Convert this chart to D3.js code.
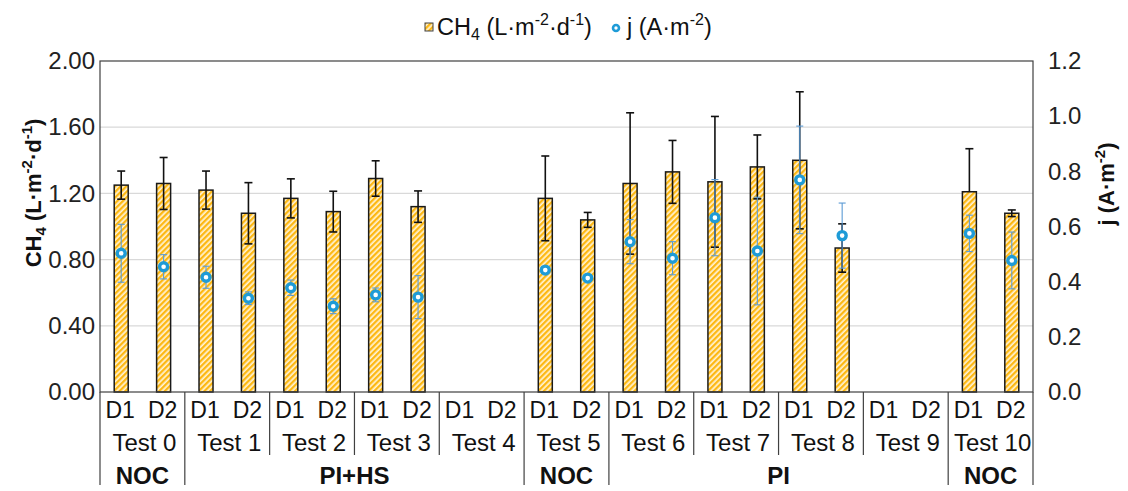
<!DOCTYPE html>
<html><head><meta charset="utf-8">
<script src="https://cdn.jsdelivr.net/npm/d3@7"></script>
<style>
html,body{margin:0;padding:0;background:#fff;}
svg{display:block;font-family:"Liberation Sans",Arial,sans-serif;}
</style></head>
<body><svg id="c" width="1128" height="491"></svg>
<script>
// ---- data ----
const days = ["D1","D2"];
const tests = ["Test 0","Test 1","Test 2","Test 3","Test 4","Test 5","Test 6","Test 7","Test 8","Test 9","Test 10"];
const groups = [
  {name:"NOC", from:0, to:0},
  {name:"PI+HS", from:1, to:4},
  {name:"NOC", from:5, to:5},
  {name:"PI", from:6, to:9},
  {name:"NOC", from:10, to:10}
];
const ch4 = [1.25,1.26, 1.22,1.08, 1.17,1.09, 1.29,1.12, null,null, 1.17,1.04, 1.26,1.33, 1.27,1.36, 1.40,0.87, null,null, 1.21,1.08];
const ch4ErrPlus  = [0.085,0.157, 0.115,0.185, 0.118,0.123, 0.107,0.095, null,null, 0.256,0.045, 0.427,0.19, 0.395,0.193, 0.414,0.146, null,null, 0.26,0.02];
const ch4ErrMinus = [0.085,0.157, 0.115,0.185, 0.118,0.123, 0.107,0.095, null,null, 0.256,0.045, 0.427,0.19, 0.395,0.193, 0.414,0.146, null,null, 0,0.02];
const jVals = [0.503,0.454, 0.416,0.340, 0.378,0.311, 0.352,0.344, null,null, 0.442,0.413, 0.545,0.485, 0.632,0.511, 0.769,0.567, null,null, 0.575,0.477];
const jErr  = [0.105,0.044, 0.040,0.023, 0.028,0.027, 0.025,0.078, null,null, 0.010,0.010, 0.080,0.060, 0.138,0.195, 0.195,0.118, null,null, 0.066,0.103];
const leftTicks = [0,0.4,0.8,1.2,1.6,2.0];
const rightTicks = [0,0.2,0.4,0.6,0.8,1.0,1.2];

// ---- layout ----
const L=100, R=1033, T=61, B=392;
const svg = d3.select("#c");
const FONT = '"Liberation Sans",Arial,sans-serif';
const slots = d3.range(tests.length*days.length);
const x = d3.scaleBand().domain(slots).range([L,R]).padding(0);
const xt = d3.scaleBand().domain(d3.range(tests.length)).range([L,R]).padding(0);
const y = d3.scaleLinear().domain([0,2]).range([B,T]);
const yj = d3.scaleLinear().domain([0,1.2]).range([B,T]);

// hatch pattern
const defs = svg.append("defs");
const pat = defs.append("pattern").attr("id","hatch").attr("patternUnits","userSpaceOnUse")
  .attr("width",4).attr("height",4).attr("patternTransform","rotate(45)");
pat.append("rect").attr("width",4).attr("height",4).attr("fill","#fff3d6");
pat.append("rect").attr("width",2.3).attr("height",4).attr("fill","#fdb813");

// gridlines
svg.append("g").selectAll("line").data(leftTicks.filter(d=>d>0&&d<2)).join("line")
  .attr("x1",L).attr("x2",R).attr("y1",d=>y(d)).attr("y2",d=>y(d))
  .attr("stroke","#d9d9d9").attr("stroke-width",1.3);

// bars
const bw = x.bandwidth()*0.33;
svg.append("g").selectAll("rect").data(slots.filter(i=>ch4[i]!=null)).join("rect")
  .attr("x",i=>x(i)+x.bandwidth()/2-bw/2).attr("width",bw)
  .attr("y",i=>y(ch4[i])).attr("height",i=>y(0)-y(ch4[i]))
  .attr("fill","url(#hatch)").attr("stroke","#1a1a1a").attr("stroke-width",1.5);

// black error bars
const eg = svg.append("g").attr("stroke","#111").attr("stroke-width",1.6);
slots.filter(i=>ch4[i]!=null).forEach(i=>{
  const cx = x(i)+x.bandwidth()/2;
  const y1 = y(ch4[i]+ch4ErrPlus[i]), y2 = y(ch4[i]-ch4ErrMinus[i]);
  eg.append("line").attr("x1",cx).attr("x2",cx).attr("y1",y1).attr("y2",y2);
  eg.append("line").attr("x1",cx-4).attr("x2",cx+4).attr("y1",y1).attr("y2",y1);
  if (ch4ErrMinus[i]>0) eg.append("line").attr("x1",cx-4).attr("x2",cx+4).attr("y1",y2).attr("y2",y2);
});

// blue error bars
const bg = svg.append("g").attr("stroke","#5b9bd5").attr("stroke-width",1.1);
slots.filter(i=>jVals[i]!=null).forEach(i=>{
  const cx = x(i)+x.bandwidth()/2;
  const y1 = yj(jVals[i]+jErr[i]), y2 = yj(jVals[i]-jErr[i]);
  bg.append("line").attr("x1",cx).attr("x2",cx).attr("y1",y1).attr("y2",y2);
  bg.append("line").attr("x1",cx-3.5).attr("x2",cx+3.5).attr("y1",y1).attr("y2",y1);
  bg.append("line").attr("x1",cx-3.5).attr("x2",cx+3.5).attr("y1",y2).attr("y2",y2);
});

// markers
svg.append("g").selectAll("circle").data(slots.filter(i=>jVals[i]!=null)).join("circle")
  .attr("cx",i=>x(i)+x.bandwidth()/2).attr("cy",i=>yj(jVals[i])).attr("r",4)
  .attr("fill","#fff").attr("stroke","#1e9bd7").attr("stroke-width",3.4);

// frame
svg.append("rect").attr("x",L).attr("y",T).attr("width",R-L).attr("height",B-T)
  .attr("fill","none").attr("stroke","#404040").attr("stroke-width",1.2);

// axes
const ax = svg.append("g").attr("transform",`translate(${L},0)`)
  .call(d3.axisLeft(y).tickValues(leftTicks).tickFormat(d3.format(".2f")).tickSize(0).tickPadding(5));
const ax2 = svg.append("g").attr("transform",`translate(${R},0)`)
  .call(d3.axisRight(yj).tickValues(rightTicks).tickFormat(d3.format(".1f")).tickSize(0).tickPadding(15));
[ax,ax2].forEach(a=>{
  a.select(".domain").remove();
  a.selectAll("text").attr("font-size",24).attr("font-family",FONT).attr("fill","#222");
});

// category axis table
const cg = svg.append("g").attr("font-family",FONT).attr("fill","#111").attr("text-anchor","middle");
cg.selectAll("text.d").data(slots).join("text").attr("class","d")
  .attr("x",i=>x(i)+x.bandwidth()/2-1).attr("y",418).attr("font-size",23)
  .text(i=>days[i%2]);
cg.selectAll("text.t").data(tests).join("text").attr("class","t")
  .attr("x",(d,i)=>xt(i)+xt.bandwidth()/2+2).attr("y",451).attr("font-size",24)
  .text(d=>d);
cg.selectAll("text.g").data(groups).join("text").attr("class","g")
  .attr("x",g=>(xt(g.from)+xt(g.to)+xt.bandwidth())/2).attr("y",484).attr("font-size",24)
  .attr("font-weight","bold").text(g=>g.name);
const lg = svg.append("g").attr("stroke","#404040").attr("stroke-width",1.2);
const groupEdges = new Set([0,...groups.map(g=>g.to+1)]);
d3.range(tests.length+1).forEach(k=>{
  const xx = k<tests.length ? xt(k) : R;
  lg.append("line").attr("x1",xx).attr("x2",xx).attr("y1",B).attr("y2",groupEdges.has(k)?485:455);
});

// axis titles
const lt = svg.append("text").attr("transform","translate(41,193) rotate(-90)")
  .attr("text-anchor","middle").attr("font-size",22).attr("font-weight","bold").attr("fill","#111");
lt.append("tspan").text("CH");
lt.append("tspan").attr("font-size",15).attr("dy",5).text("4");
lt.append("tspan").attr("dy",-5).text(" (L·m");
lt.append("tspan").attr("font-size",15).attr("dy",-9).text("-2");
lt.append("tspan").attr("dy",9).text("·d");
lt.append("tspan").attr("font-size",15).attr("dy",-9).text("-1");
lt.append("tspan").attr("dy",9).text(")");

const rt = svg.append("text").attr("transform","translate(1114,184) rotate(-90)")
  .attr("text-anchor","middle").attr("font-size",22).attr("font-weight","bold").attr("fill","#111");
rt.append("tspan").text("j (A·m");
rt.append("tspan").attr("font-size",15).attr("dy",-9).text("-2");
rt.append("tspan").attr("dy",9).text(")");

// legend
const leg = svg.append("g").attr("font-family",FONT);
leg.append("rect").attr("x",425).attr("y",23).attr("width",8).attr("height",8)
  .attr("fill","url(#hatch)").attr("stroke","#404040").attr("stroke-width",1);
const l1 = leg.append("text").attr("x",437).attr("y",35).attr("font-size",23.5).attr("fill","#111");
l1.append("tspan").text("CH");
l1.append("tspan").attr("font-size",16).attr("dy",5).text("4");
l1.append("tspan").attr("dy",-5).text(" (L·m");
l1.append("tspan").attr("font-size",16).attr("dy",-10).text("-2");
l1.append("tspan").attr("dy",10).text("·d");
l1.append("tspan").attr("font-size",16).attr("dy",-10).text("-1");
l1.append("tspan").attr("dy",10).text(")");
leg.append("circle").attr("cx",616).attr("cy",28).attr("r",3).attr("fill","#fff")
  .attr("stroke","#1e9bd7").attr("stroke-width",2.6);
const l2 = leg.append("text").attr("x",627).attr("y",35).attr("font-size",23.5).attr("fill","#111");
l2.append("tspan").text("j (A·m");
l2.append("tspan").attr("font-size",16).attr("dy",-10).text("-2");
l2.append("tspan").attr("dy",10).text(")");
</script>
</body></html>
